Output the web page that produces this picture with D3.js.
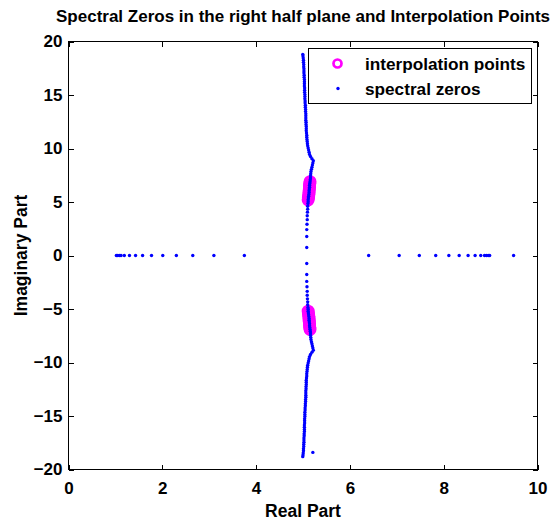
<!DOCTYPE html>
<html>
<head>
<meta charset="utf-8">
<script src="https://cdn.jsdelivr.net/npm/d3@7"></script>
<style>
  html, body { margin: 0; padding: 0; background: #fff; }
  svg { display: block; font-family: "Liberation Sans", Arial, Helvetica, sans-serif; font-weight: bold; }
</style>
</head>
<body>
<svg id="chart" width="555" height="523"></svg>
<script>
// Axis ticks
const xTicks = [0, 2, 4, 6, 8, 10];
const yTicks = [-20, -15, -10, -5, 0, 5, 10, 15, 20];

// Spectral zeros lying on the real axis
const realAxisZeros = [1.02, 1.05, 1.09, 1.12, 1.19, 1.30, 1.43, 1.58, 1.77, 2.01, 2.30, 2.65, 3.10, 3.75,
                       6.40, 7.05, 7.48, 7.83, 8.11, 8.33, 8.52, 8.67, 8.79, 8.87, 8.91, 8.95, 8.98, 9.49];

// Spectral zeros along the upper branch (real part, imaginary part)
const upperRe = [5.08, 5.08, 5.08, 5.085, 5.09, 5.09, 5.095, 5.10, 5.10, 5.105, 5.11,
                 5.11, 5.115, 5.12, 5.125, 5.13, 5.13, 5.135, 5.14, 5.14, 5.145, 5.15,
                 5.155, 5.16, 5.16, 5.165, 5.17, 5.18, 5.19, 5.20, 5.21, 5.22,
                 5.19, 5.16, 5.14, 5.13, 5.12, 5.11, 5.10, 5.095, 5.09, 5.085,
                 5.08, 5.08, 5.075, 5.07, 5.07, 5.07, 5.065, 5.065, 5.06, 5.06,
                 5.06, 5.06, 5.055, 5.055, 5.05, 5.05, 5.045, 5.045, 5.04, 5.04,
                 5.04, 5.035, 5.035, 5.035, 5.03, 5.03, 5.03, 5.03, 5.025, 5.025,
                 5.02, 5.02, 5.02, 5.015, 5.015, 5.01, 5.01, 5.005, 5.0, 4.995];
const upperIm = [0.75, 1.78, 2.42, 2.92, 3.35, 3.72, 4.05, 4.33, 4.60, 4.85, 5.03,
                 5.20, 5.37, 5.54, 5.71, 5.88, 6.05, 6.22, 6.39, 6.56, 6.73, 6.90,
                 7.08, 7.25, 7.45, 7.65, 7.85, 8.05, 8.25, 8.45, 8.65, 8.85,
                 9.05, 9.25, 9.45, 9.65, 9.85, 10.05, 10.25, 10.45, 10.65, 10.85,
                 11.05, 11.25, 11.45, 11.65, 11.85, 12.05, 12.25, 12.45, 12.65, 12.85,
                 13.05, 13.25, 13.45, 13.65, 13.85, 14.05, 14.25, 14.45, 14.65, 14.85,
                 15.05, 15.25, 15.45, 15.65, 15.85, 16.05, 16.25, 16.45, 16.65, 16.85,
                 17.05, 17.25, 17.45, 17.65, 17.85, 18.05, 18.25, 18.45, 18.65, 18.8];

// Spectral zeros along the lower branch (conjugates)
const lowerRe = upperRe.slice();
const lowerIm = upperIm.map(v => -v);

// Two isolated zeros near the ends of the branches
const isolatedRe = [5.21, 5.21];
const isolatedIm = [18.4, -18.4];

// Interpolation points (a subset of the spectral zeros)
const interpRe = [5.11, 5.115, 5.12, 5.125, 5.13, 5.13, 5.135, 5.14, 5.14, 5.145, 5.15,
                  5.11, 5.115, 5.12, 5.125, 5.13, 5.13, 5.135, 5.14, 5.14, 5.145, 5.15];
const interpIm = [5.20, 5.37, 5.54, 5.71, 5.88, 6.05, 6.22, 6.39, 6.56, 6.73, 6.90,
                  -5.20, -5.37, -5.54, -5.71, -5.88, -6.05, -6.22, -6.39, -6.56, -6.73, -6.90];

const legendLabels = ["interpolation points", "spectral zeros"];

const BLUE = "#0000ff", MAGENTA = "#ff00ff";

const svg = d3.select("#chart");
const plotL = 68.5, plotR = 537.5, plotT = 41.5, plotB = 469.5;

const x = d3.scaleLinear().domain([0, 10]).range([plotL, plotR]);
const y = d3.scaleLinear().domain([-20, 20]).range([plotB, plotT]);

const fmt = d => (d < 0 ? "\u2212" + Math.abs(d) : String(d));

// Axes with inward ticks on all four sides
const gx = svg.append("g").attr("transform", `translate(0,${plotB})`)
  .call(d3.axisBottom(x).tickValues(xTicks).tickSize(-5).tickPadding(12).tickFormat(fmt));
const gy = svg.append("g").attr("transform", `translate(${plotL},0)`)
  .call(d3.axisLeft(y).tickValues(yTicks).tickSize(-5).tickPadding(6).tickFormat(fmt));
const gxt = svg.append("g").attr("transform", `translate(0,${plotT})`)
  .call(d3.axisTop(x).tickValues(xTicks).tickSize(-5).tickFormat(""));
const gyr = svg.append("g").attr("transform", `translate(${plotR},0)`)
  .call(d3.axisRight(y).tickValues(yTicks).tickSize(-5).tickFormat(""));

[gx, gy, gxt, gyr].forEach(g => {
  g.select(".domain").remove();
  g.selectAll(".tick line").attr("stroke", "#000").attr("shape-rendering", "crispEdges");
  g.selectAll(".tick text").attr("fill", "#000").attr("font-size", 17)
    .attr("font-family", "'Liberation Sans', Arial, sans-serif").attr("font-weight", "bold");
});

// Plot frame
svg.append("rect")
  .attr("x", plotL).attr("y", plotT)
  .attr("width", plotR - plotL).attr("height", plotB - plotT)
  .attr("fill", "none").attr("stroke", "#000").attr("stroke-width", 1)
  .attr("shape-rendering", "crispEdges");

// Interpolation points: open magenta circles
svg.append("g").selectAll("circle")
  .data(d3.range(interpRe.length))
  .join("circle")
  .attr("cx", i => x(interpRe[i]))
  .attr("cy", i => y(interpIm[i]))
  .attr("r", 5)
  .attr("fill", "none")
  .attr("stroke", MAGENTA)
  .attr("stroke-width", 3);

// Spectral zeros: small blue dots
const zeros = [];
realAxisZeros.forEach(v => zeros.push([v, 0]));
upperRe.forEach((v, i) => zeros.push([v, upperIm[i]]));
lowerRe.forEach((v, i) => zeros.push([v, lowerIm[i]]));
isolatedRe.forEach((v, i) => zeros.push([v, isolatedIm[i]]));

svg.append("g").selectAll("circle")
  .data(zeros)
  .join("circle")
  .attr("cx", d => x(d[0]))
  .attr("cy", d => y(d[1]))
  .attr("r", 1.7)
  .attr("fill", BLUE);

// Legend
const lg = svg.append("g");
lg.append("rect")
  .attr("x", 308.5).attr("y", 48.5).attr("width", 223).attr("height", 55)
  .attr("fill", "#fff").attr("stroke", "#000").attr("stroke-width", 1)
  .attr("shape-rendering", "crispEdges");
lg.append("circle").attr("cx", 337.5).attr("cy", 63.5).attr("r", 4)
  .attr("fill", "none").attr("stroke", MAGENTA).attr("stroke-width", 2.7);
lg.append("circle").attr("cx", 338).attr("cy", 88.5).attr("r", 1.7).attr("fill", BLUE);
lg.selectAll("text.lbl")
  .data(legendLabels)
  .join("text")
  .attr("class", "lbl")
  .attr("x", 365)
  .attr("y", (d, i) => 69.5 + i * 25.5)
  .attr("font-size", 17.2)
  .attr("fill", "#000")
  .text(d => d);

// Title
svg.append("text")
  .attr("x", (plotL + plotR) / 2).attr("y", 21.5)
  .attr("text-anchor", "middle")
  .attr("font-size", 17)
  .attr("fill", "#000")
  .text("Spectral Zeros in the right half plane and Interpolation Points");

// Axis labels
svg.append("text")
  .attr("x", (plotL + plotR) / 2).attr("y", 517)
  .attr("text-anchor", "middle")
  .attr("font-size", 17.5)
  .attr("fill", "#000")
  .text("Real Part");

svg.append("text")
  .attr("transform", `translate(27,${(plotT + plotB) / 2}) rotate(-90)`)
  .attr("text-anchor", "middle")
  .attr("font-size", 17.5)
  .attr("fill", "#000")
  .text("Imaginary Part");
</script>
</body>
</html>
